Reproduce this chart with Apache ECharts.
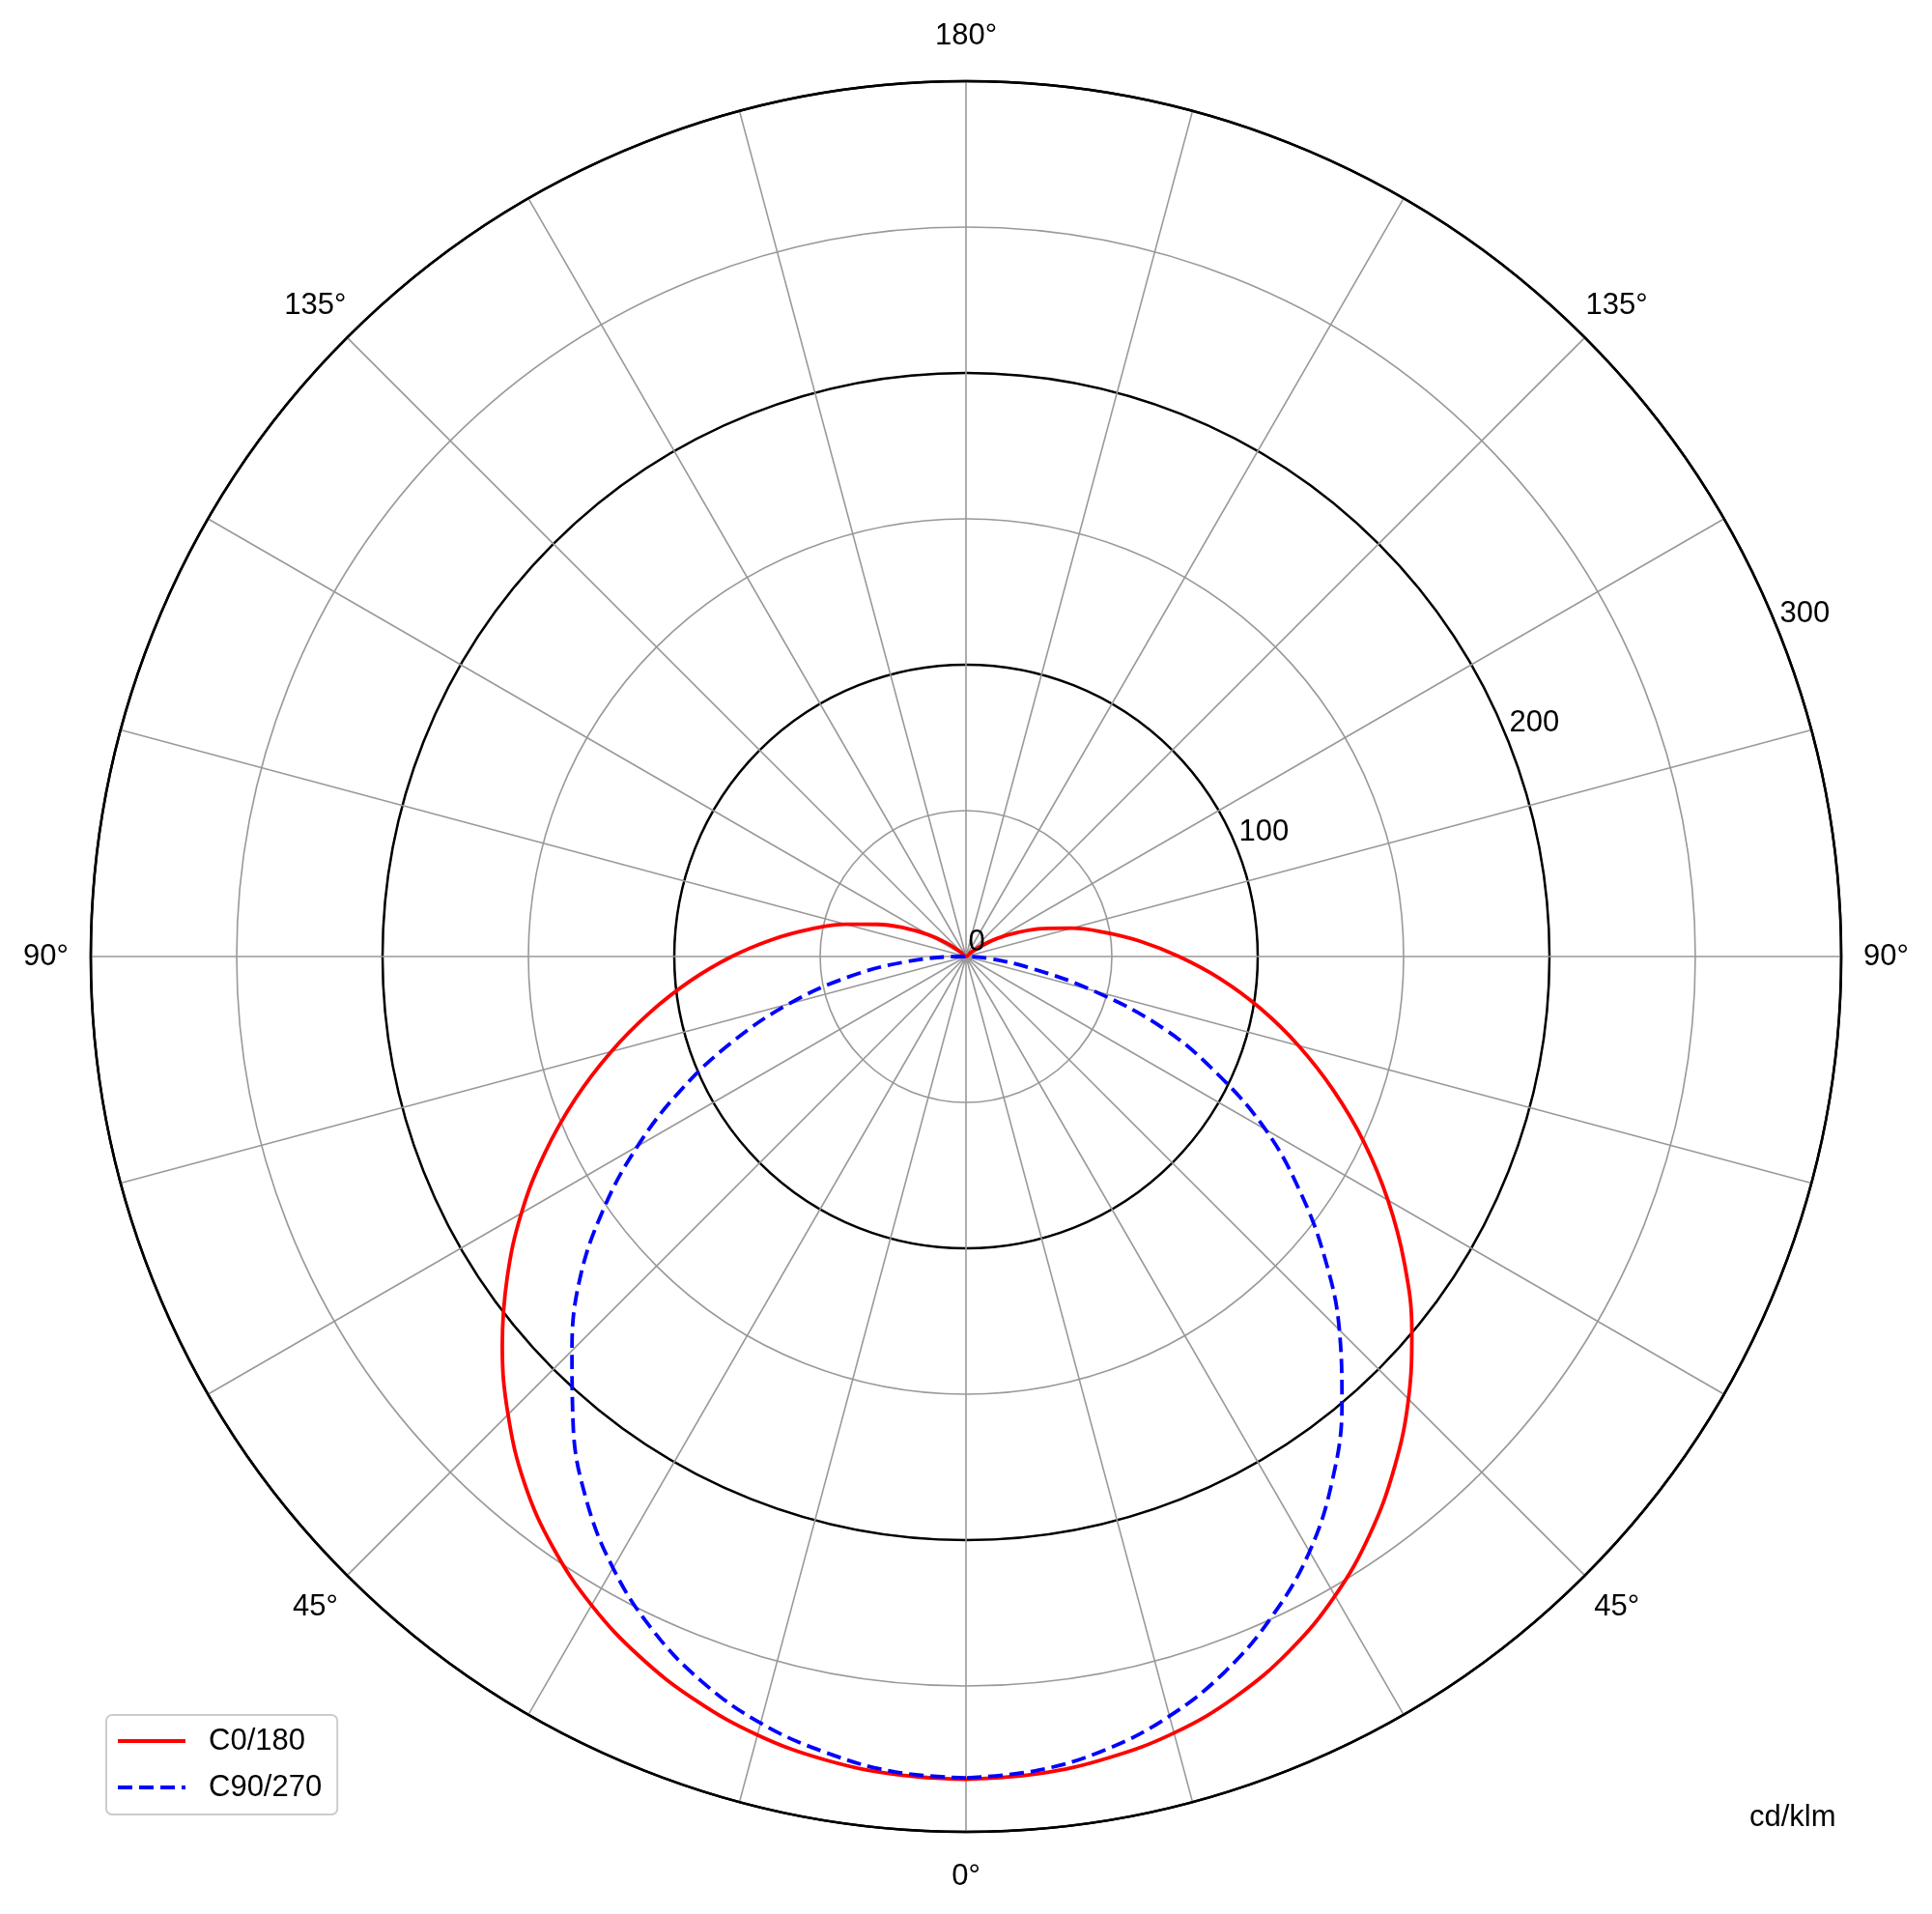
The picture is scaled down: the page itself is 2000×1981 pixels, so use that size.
<!DOCTYPE html>
<html><head><meta charset="utf-8">
<script src="https://cdn.jsdelivr.net/npm/echarts@6/dist/echarts.min.js"></script>
<style>html,body{margin:0;padding:0;background:#fff}#chart{width:2000px;height:1981px}</style>
</head><body><div id="chart"></div>
<script>
// gamma angles (degrees from nadir)
const gammaDeg = [0,5,10,15,20,25,30,35,40,45,50,55,60,65,70,75,80,85,90,95,100,105,110,115,120,125,130,135,140,145,150,155,160,165,170,175,180];
// C0/180 plane (cd/klm): left half (C180) and right half (C0)
const c180 = [282,281.3,279.5,276.2,271.2,264.7,256.7,247,235.5,222,207.5,192,176,159.3,142.5,125.9,109.9,94.7,80.3,66.7,54.1,42.6,32.2,23,15,8,2,0,0,0,0,0,0,0,0,0,0];
const c0   = [282,281.2,279,275.5,270,262.5,253,241.5,228.5,214.5,199.5,183.5,167,150.5,134,118,102.5,87.5,73,60,48,37.5,28,19.5,12.5,6.5,2,0,0,0,0,0,0,0,0,0,0];
// C90/270 plane: left half (C270) and right half (C90)
const c270 = [281.5,280.5,277,272,264.5,254.5,242,227,209.5,191,173,152,130,107.5,85,63,41.5,20.5,0,0,0,0,0,0,0,0,0,0,0,0,0,0,0,0,0,0,0];
const c90  = [281.5,280,276,269.5,260.5,249,235.5,219,200.5,181,160.5,139.5,118.5,95,72,45,22,8,0,0,0,0,0,0,0,0,0,0,0,0,0,0,0,0,0,0,0];
const radiusTicks = [0,100,200,300];
const rLabelAngle = 248;
const seriesNames = ['C0/180','C90/270'];
const unitText = 'cd/klm';

const FONT = "'Liberation Sans', Arial, sans-serif";

function plane(left, right) {
  const pts = [];
  gammaDeg.forEach((g, i) => pts.push([left[i], g]));
  for (let i = gammaDeg.length - 1; i >= 0; i--) pts.push([right[i], 360 - gammaDeg[i]]);
  return pts;
}

const chart = echarts.init(document.getElementById('chart'), null, {renderer: 'canvas'});
const option = {
  backgroundColor: '#fff',
  animation: false,
  title: {
    text: unitText, left: 1811, top: 1866, padding: 0,
    textStyle: {fontFamily: FONT, fontSize: 31, fontWeight: 'normal', color: '#000', lineHeight: 31}
  },
  legend: {
    data: seriesNames, orient: 'vertical', left: 110, top: 1775,
    itemWidth: 70, itemHeight: 14, itemGap: 16,
    padding: [11, 16, 12, 10],
    borderColor: '#cccccc', borderWidth: 2, borderRadius: 6, backgroundColor: '#fff',
    selectedMode: false,
    itemStyle: {opacity: 0, borderWidth: 0},
    lineStyle: {width: 4},
    textStyle: {fontFamily: FONT, fontSize: 31, color: '#000', lineHeight: 32, padding: [0, 0, 0, 19]}
  },
  polar: [
    {center: [1000, 990], radius: 906},
    {center: [1000, 990], radius: 906}
  ],
  angleAxis: [
    {
      polarIndex: 0, type: 'value', min: 0, max: 360, interval: 15,
      startAngle: -90, clockwise: true,
      axisLine: {show: true, lineStyle: {color: '#000', width: 2.5}},
      axisTick: {show: false},
      splitLine: {show: true, lineStyle: {color: '#999', width: 1.6}},
      axisLabel: {
        show: true, margin: 46,
        formatter: function (v) {
          if (v % 45 !== 0 || v >= 360) return '';
          const g = v <= 180 ? v : 360 - v;
          return '{a|' + g + '°}';
        },
        rich: {a: {fontFamily: FONT, fontSize: 31, color: '#000', width: 1, height: 1, lineHeight: 1, align: 'center', verticalAlign: 'middle'}}
      }
    },
    {polarIndex: 1, type: 'value', min: 0, max: 360, startAngle: -90, show: false}
  ],
  radiusAxis: [
    {
      polarIndex: 0, type: 'value', min: 0, max: 300, interval: 50,
      axisLine: {show: false}, axisTick: {show: false}, axisLabel: {show: false},
      splitLine: {show: true, lineStyle: {color: '#999', width: 1.6}}
    },
    {
      polarIndex: 1, type: 'value', min: 0, max: 300, interval: 100,
      axisLine: {show: false}, axisTick: {show: false}, axisLabel: {show: false},
      splitLine: {show: true, lineStyle: {color: '#000', width: 2.5}}
    }
  ],
  series: [
    {
      name: seriesNames[0], type: 'line', coordinateSystem: 'polar', polarIndex: 0,
      data: plane(c180, c0), smooth: 0.4, symbol: 'none', z: 5,
      lineStyle: {color: '#ff0000', width: 3.8}, itemStyle: {color: '#ff0000'}
    },
    {
      name: seriesNames[1], type: 'line', coordinateSystem: 'polar', polarIndex: 0,
      data: plane(c270, c90), smooth: 0.4, symbol: 'none', z: 5,
      lineStyle: {color: '#0000ff', width: 3.8, type: [15, 7]}, itemStyle: {color: '#0000ff'}
    },
    {
      name: 'rlabels', type: 'scatter', coordinateSystem: 'polar', polarIndex: 0,
      data: radiusTicks.map(r => [r, rLabelAngle]), symbolSize: 1, silent: true, z: 6,
      itemStyle: {color: 'rgba(0,0,0,0)'},
      label: {
        show: true, position: 'right', distance: 0, offset: [2, -15],
        formatter: p => String(p.value[0]), opacity: 1, textBorderWidth: 0,
        fontFamily: FONT, fontSize: 31, color: '#000', align: 'left', verticalAlign: 'middle'
      }
    }
  ]
};
chart.setOption(option);
</script>
</body></html>
